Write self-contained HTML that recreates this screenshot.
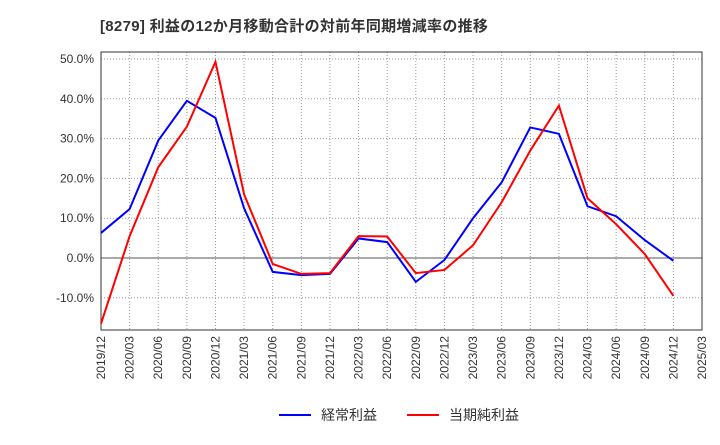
<!DOCTYPE html>
<html><head><meta charset="utf-8"><style>
body{margin:0;background:#fff;font-family:"Liberation Sans","Noto Sans CJK JP",sans-serif;}
</style></head><body>
<svg id="chart" width="720" height="440" xmlns="http://www.w3.org/2000/svg" font-family="Liberation Sans, Noto Sans CJK JP, sans-serif">
<text x="100" y="31" font-size="15" font-weight="bold" fill="#333" letter-spacing="0.3">[8279]  利益の12か月移動合計の対前年同期増減率の推移</text>
<g id="grid"></g><g id="axes"></g><g id="series"></g>
<g>
<line x1="279" y1="415" x2="311" y2="415" stroke="#0000ff" stroke-width="2"/>
<text x="321" y="420" font-size="14" fill="#333">経常利益</text>
<line x1="407" y1="415" x2="439" y2="415" stroke="#ff0000" stroke-width="2"/>
<text x="449" y="420" font-size="14" fill="#333">当期純利益</text>
</g>
</svg>
<script>
const categories=["2019/12","2020/03","2020/06","2020/09","2020/12","2021/03","2021/06","2021/09","2021/12","2022/03","2022/06","2022/09","2022/12","2023/03","2023/06","2023/09","2023/12","2024/03","2024/06","2024/09","2024/12","2025/03"];
const ordinaryProfit=[6.3,12.3,29.5,39.5,35.2,12.5,-3.5,-4.3,-4.0,4.9,4.0,-6.0,-0.5,10.0,19.0,32.8,31.2,13.0,10.5,4.5,-0.7];
const netProfit=[-16.5,5.5,22.8,33.0,49.3,16.0,-1.5,-4.0,-3.8,5.5,5.4,-3.8,-3.0,3.2,14.0,27.0,38.3,15.0,8.5,1.0,-9.5];
const yTicks=[-10,0,10,20,30,40,50];
const L=101,R=702,T=52,B=330;
const x=i=>L+(R-L)*i/(categories.length-1);
const y=v=>258-v*3.98;
const ns="http://www.w3.org/2000/svg";
function mk(tag,attrs,parent){const e=document.createElementNS(ns,tag);for(const k in attrs)e.setAttribute(k,attrs[k]);document.getElementById(parent).appendChild(e);return e;}
categories.forEach((c,i)=>{
 const g=mk('line',{x1:x(i),x2:x(i),y1:T,y2:B,stroke:'#999','stroke-dasharray':'1,2','stroke-width':1},'grid');
 
 
 const t=mk('text',{x:0,y:0,'font-size':12,fill:'#333','text-anchor':'end',transform:`translate(${x(i)+4},${B+6}) rotate(-90)`},'axes');
 t.textContent=c;
 
 
});
yTicks.forEach(v=>{
 const g=mk('line',{x1:L,x2:R,y1:y(v),y2:y(v),stroke:v===0?'#555':'#999','stroke-dasharray':v===0?'none':'1,2','stroke-width':1},'grid');
 
 
 const t=mk('text',{x:L-7,y:y(v)+4,'font-size':12,fill:'#333','text-anchor':'end'},'axes');
 t.textContent=v.toFixed(1)+'%';
 
 
});
const fr=mk('rect',{x:L,y:T,width:R-L,height:B-T,fill:'none',stroke:'#333','stroke-width':1},'axes');


[[ordinaryProfit,'#0000ff','ordinary-profit-line'],[netProfit,'#ff0000','net-profit-line']].forEach(([d,c,n])=>{
 const p=mk('polyline',{points:d.map((v,i)=>x(i)+','+y(v)).join(' '),fill:'none',stroke:c,'stroke-width':2},'series');
 
 
});
</script>
</body></html>
